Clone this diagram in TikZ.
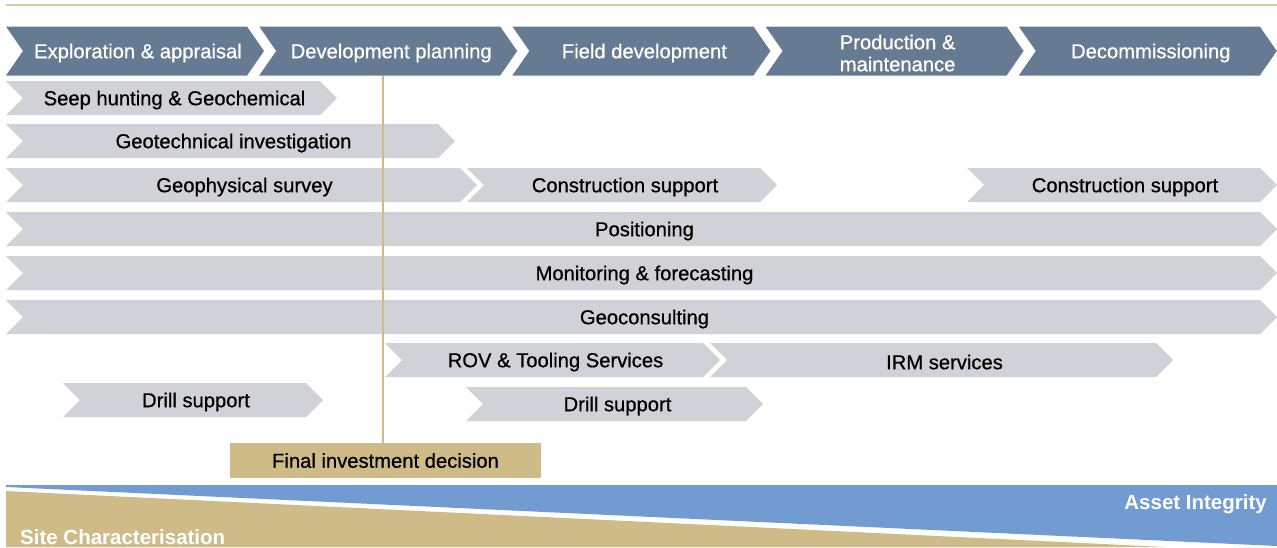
\documentclass[tikz,border=0pt]{standalone}
\usepackage{fontspec}
\setmainfont{Liberation Sans}
\newfontfamily\medfont{Liberation Sans}[FakeBold=0.7]
\usetikzlibrary{positioning}
\definecolor{phasefill}{HTML}{667A91}
\definecolor{barfill}{HTML}{D1D2D7}
\definecolor{goldfill}{HTML}{CEBB88}
\definecolor{goldline}{HTML}{D8CBA3}
\definecolor{bluefill}{HTML}{729BD1}

% chevron: name, style, left x, tip x, centre y, half height, label
\newcommand{\chevbar}[7]{%
  \fill[#2] (#3,#5-#6) -- (#4-17,#5-#6) -- (#4,#5) -- (#4-17,#5+#6) -- (#3,#5+#6) -- (#3+17,#5) -- cycle;
  \node[#2 text] (#1) at ({(#3+#4)/2+3},#5+2) {#7};
}

\begin{document}
\begin{tikzpicture}[
    x=1pt, y=-1pt,
    phase/.style={fill=phasefill},
    phase text/.style={text=white, align=center, inner sep=0pt, font=\medfont\fontsize{20.2}{22}\selectfont},
    bar/.style={fill=barfill},
    bar text/.style={text=black, inner sep=0pt, font=\medfont\fontsize{20.2}{22}\selectfont},
    fidbox/.style={rectangle, fill=goldfill, minimum width=311pt, minimum height=35pt, inner sep=0pt, font=\medfont\fontsize{20.2}{22}\selectfont},
    fidline/.style={draw=goldfill, line width=2pt},
    stage/.style={text=white, inner sep=0pt, font=\fontsize{20.5}{22}\selectfont\bfseries}
]
\useasboundingbox (0,0) rectangle (1277,547);

% rule at the top
\draw[goldline, line width=2pt] (6,5) -- (1277,5);

% life-cycle phases
\foreach \lbl [count=\i from 0] in {Exploration \& appraisal, Development planning, Field development, {Production \&\\ maintenance}, Decommissioning}
  {\chevbar{phase\i}{phase}{6+253.2*\i}{264+253.2*\i}{51}{24.5}{\lbl}}

% services
\chevbar{seep}{bar}{6}{337}{98}{17}{Seep hunting \& Geochemical}
\chevbar{geotech}{bar}{6}{455}{141}{17}{Geotechnical investigation}
\chevbar{geophys}{bar}{6}{477}{185}{17}{Geophysical survey}
\chevbar{constr1}{bar}{467}{777}{185}{17}{Construction support}
\chevbar{constr2}{bar}{967}{1277}{185}{17}{Construction support}
\chevbar{posit}{bar}{6}{1277}{229}{17}{Positioning}
\chevbar{monit}{bar}{6}{1277}{273}{17}{Monitoring \& forecasting}
\chevbar{geocons}{bar}{6}{1277}{317}{17}{Geoconsulting}
\chevbar{rov}{bar}{385}{720}{360}{17}{ROV \& Tooling Services}
\chevbar{irm}{bar}{710}{1173}{360}{17}{IRM services}
\chevbar{drill1}{bar}{63}{323}{400}{17}{Drill support}
\chevbar{drill2}{bar}{466}{763}{404}{17}{Drill support}

% final investment decision
\node[fidbox] (fid) at (385.5,460.5) {Final investment decision};
\coordinate (fidtop) at (383,76);
\draw[fidline] (fidtop) -- (fidtop |- fid.north);

% bottom wedges
\fill[bluefill] (6,485) -- (1277,485) -- (1277,546) -- (6,487) -- cycle;
\fill[goldfill] (6,491) -- (1165,547) -- (6,547) -- cycle;
\node[stage, anchor=east] (asset) at (1267,504.5) {Asset Integrity};
\node[stage, anchor=west] (site) at (20,537) {Site Characterisation};

\end{tikzpicture}
\end{document}
